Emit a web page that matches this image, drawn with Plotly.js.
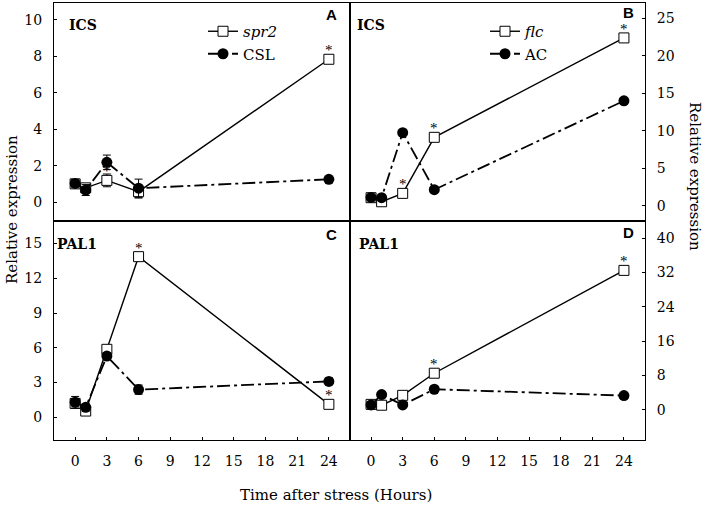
<!DOCTYPE html>
<html>
<head>
<meta charset="utf-8">
<script src="https://cdn.plot.ly/plotly-3.0.1.min.js"></script>
<style>html,body{margin:0;padding:0;background:#fff;}#chart{width:708px;height:511px;}</style>
</head>
<body>
<div id="chart"></div>
<script>
// ---- data ----
const time = [0, 1, 3, 6, 24];
const xTicks = [0, 3, 6, 9, 12, 15, 18, 21, 24];

// Panel A: ICS, spr2 vs CSL
const spr2A = [1.0, 0.78, 1.19, 0.57, 7.84];
const spr2AErr = [0.15, 0.2, 0.35, 0.35, 0.15];
const cslA = [1.02, 0.66, 2.18, 0.76, 1.25];
const cslAErr = [0.2, 0.3, 0.4, 0.5, 0.12];
const sigA = [0, 0, 1, 0, 1];

// Panel B: ICS, flc vs AC
const flcB = [1.07, 0.53, 1.65, 9.13, 22.4];
const flcBErr = [0.3, 0.3, 0.3, 0.35, 0.35];
const acB = [1.1, 1.07, 9.75, 2.14, 14.0];
const acBErr = [0.3, 0.3, 0.3, 0.3, 0.3];
const sigB = [0, 0, 1, 1, 1];

// Panel C: PAL1, spr2 vs CSL
const spr2C = [1.2, 0.54, 5.87, 13.87, 1.12];
const spr2CErr = [0.4, 0.3, 0.3, 0.3, 0.2];
const cslC = [1.3, 0.86, 5.29, 2.39, 3.1];
const cslCErr = [0.5, 0.3, 0.3, 0.4, 0.3];
const sigC = [0, 0, 0, 1, 1];

// Panel D: PAL1, flc vs AC
const flcD = [1.3, 1.1, 3.4, 8.55, 32.5];
const flcDErr = [0.6, 0.5, 0.5, 0.6, 0.6];
const acD = [1.16, 3.57, 1.16, 4.82, 3.34];
const acDErr = [0.5, 0.5, 0.5, 0.5, 0.5];
const sigD = [0, 0, 0, 1, 1];

// ---- styling ----
const SERIF = 'DejaVu Serif, Liberation Serif, serif';
const DASHDOT = '13px,4px,3px,4px';

function sqTrace(y, err, xa, ya, name, legend, show) {
  return {
    x: time, y: y, xaxis: xa, yaxis: ya, name: name, legend: legend, showlegend: show,
    type: 'scatter', mode: 'lines+markers',
    line: {color: '#000', width: 1.4},
    marker: {symbol: 'square', size: 10, color: '#fff', line: {color: '#000', width: 1}},
    error_y: {type: 'data', array: err, visible: true, color: '#000', thickness: 1, width: 4}
  };
}
function ciTrace(y, err, xa, ya, name, legend, show) {
  return {
    x: time, y: y, xaxis: xa, yaxis: ya, name: name, legend: legend, showlegend: show,
    type: 'scatter', mode: 'lines+markers',
    line: {color: '#000', width: 1.8, dash: DASHDOT},
    marker: {symbol: 'circle', size: 11, color: '#000', line: {color: '#000', width: 0}},
    error_y: {type: 'data', array: err, visible: true, color: '#000', thickness: 1, width: 4}
  };
}

const traces = [
  sqTrace(spr2A, spr2AErr, 'x', 'y', '<i>spr2</i>', 'legend', true),
  ciTrace(cslA, cslAErr, 'x', 'y', 'CSL', 'legend', true),
  sqTrace(flcB, flcBErr, 'x2', 'y2', '<i>flc</i>', 'legend2', true),
  ciTrace(acB, acBErr, 'x2', 'y2', 'AC', 'legend2', true),
  sqTrace(spr2C, spr2CErr, 'x3', 'y3', 'spr2', 'legend', false),
  ciTrace(cslC, cslCErr, 'x3', 'y3', 'CSL', 'legend', false),
  sqTrace(flcD, flcDErr, 'x4', 'y4', 'flc', 'legend2', false),
  ciTrace(acD, acDErr, 'x4', 'y4', 'AC', 'legend2', false)
];

const W = 708, H = 511;
const xL = [54 / W, 350 / W], xR = [350 / W, 645 / W];
const yT = [1 - 221 / H, 1 - 3 / H], yB = [1 - 440 / H, 1 - 221 / H];

function xax(domain, anchor, labels) {
  return {
    domain: domain, anchor: anchor, range: [-2, 26],
    showgrid: false, zeroline: false, showline: true, mirror: true,
    linecolor: '#000', linewidth: 1,
    tickmode: 'array', tickvals: labels ? xTicks : [], ticktext: labels ? xTicks.map(String) : [],
    ticks: labels ? 'inside' : '', ticklen: 3, tickcolor: '#000',
    showticklabels: labels, ticklabelstandoff: 8,
    tickfont: {family: SERIF, size: 14, color: '#000'}
  };
}
function yax(domain, anchor, range, dtick, side) {
  return {
    domain: domain, anchor: anchor, range: range, side: side, dtick: dtick, tick0: 0,
    showgrid: false, zeroline: false, showline: true, mirror: true,
    linecolor: '#000', linewidth: 1,
    ticks: 'inside', ticklen: 3, tickcolor: '#000', ticklabelstandoff: 8,
    tickfont: {family: SERIF, size: 14, color: '#000'}
  };
}

const annotations = [];
function stars(y, sig, xa, ya) {
  sig.forEach((s, i) => {
    if (s) annotations.push({
      x: time[i], y: y[i], xref: xa, yref: ya, text: '*', showarrow: false,
      xanchor: 'center', yanchor: 'middle',
      yshift: 9, font: {family: 'Liberation Serif, serif', size: 15, color: 'black'}
    });
  });
}
stars(spr2A, sigA, 'x', 'y');
stars(flcB, sigB, 'x2', 'y2');
stars(spr2C, sigC, 'x3', 'y3');
stars(flcD, sigD, 'x4', 'y4');

function gene(text, x, y) {
  annotations.push({text: '<b>' + text + '</b>', x: x / W, y: 1 - y / H, xref: 'paper', yref: 'paper',
    xanchor: 'left', yanchor: 'middle', showarrow: false, font: {family: SERIF, size: 14, color: '#000'}});
}
gene('ICS', 67, 25); gene('ICS', 355, 25); gene('PAL1', 55, 244); gene('PAL1', 357, 244);
function letter(text, x, y) {
  annotations.push({text: '<b>' + text + '</b>', x: x / W, y: 1 - y / H, xref: 'paper', yref: 'paper',
    xanchor: 'center', yanchor: 'middle', showarrow: false, font: {family: 'Liberation Sans, Arial, sans-serif', size: 15, color: '#000'}});
}
letter('A', 331, 14); letter('B', 628, 13); letter('C', 331, 234); letter('D', 628, 233);

annotations.push({text: 'Time after stress (Hours)', x: 336 / W, y: 1 - 495 / H, xref: 'paper', yref: 'paper',
  xanchor: 'center', yanchor: 'middle',
  showarrow: false, font: {family: SERIF, size: 15, color: '#000'}});
annotations.push({text: 'Relative expression', x: 12 / W, y: 1 - 210 / H, xref: 'paper', yref: 'paper',
  xanchor: 'center', yanchor: 'middle',
  showarrow: false, textangle: -90, font: {family: SERIF, size: 15, color: '#000'}});
annotations.push({text: 'Relative expression', x: 695 / W, y: 1 - 176 / H, xref: 'paper', yref: 'paper',
  xanchor: 'center', yanchor: 'middle',
  showarrow: false, textangle: 90, font: {family: SERIF, size: 15, color: '#000'}});

const legendBase = {xref: 'paper', yref: 'paper', xanchor: 'left', yanchor: 'top', bgcolor: 'rgba(0,0,0,0)',
  font: {family: SERIF, size: 15, color: '#000'}, tracegroupgap: 0, itemwidth: 30};

const layout = {
  width: W, height: H, margin: {l: 0, r: 0, t: 0, b: 0},
  paper_bgcolor: '#fff', plot_bgcolor: '#fff', showlegend: true,
  font: {color: '#000'},
  xaxis: xax(xL, 'y', false),
  yaxis: yax(yT, 'x', [-1.04, 10.93], 2, 'left'),
  xaxis2: xax(xR, 'y2', false),
  yaxis2: yax(yT, 'x2', [-2.04, 27.06], 5, 'right'),
  xaxis3: xax(xL, 'y3', true),
  yaxis3: yax(yB, 'x3', [-1.96, 16.95], 3, 'left'),
  xaxis4: xax(xR, 'y4', true),
  yaxis4: yax(yB, 'x4', [-7, 44], 8, 'right'),
  legend: Object.assign({}, legendBase, {x: 203 / W, y: 1 - 15 / H}),
  legend2: Object.assign({}, legendBase, {x: 485 / W, y: 1 - 15 / H}),
  annotations: annotations
};

Plotly.newPlot('chart', traces, layout, {displayModeBar: false, staticPlot: true});
</script>
</body>
</html>
